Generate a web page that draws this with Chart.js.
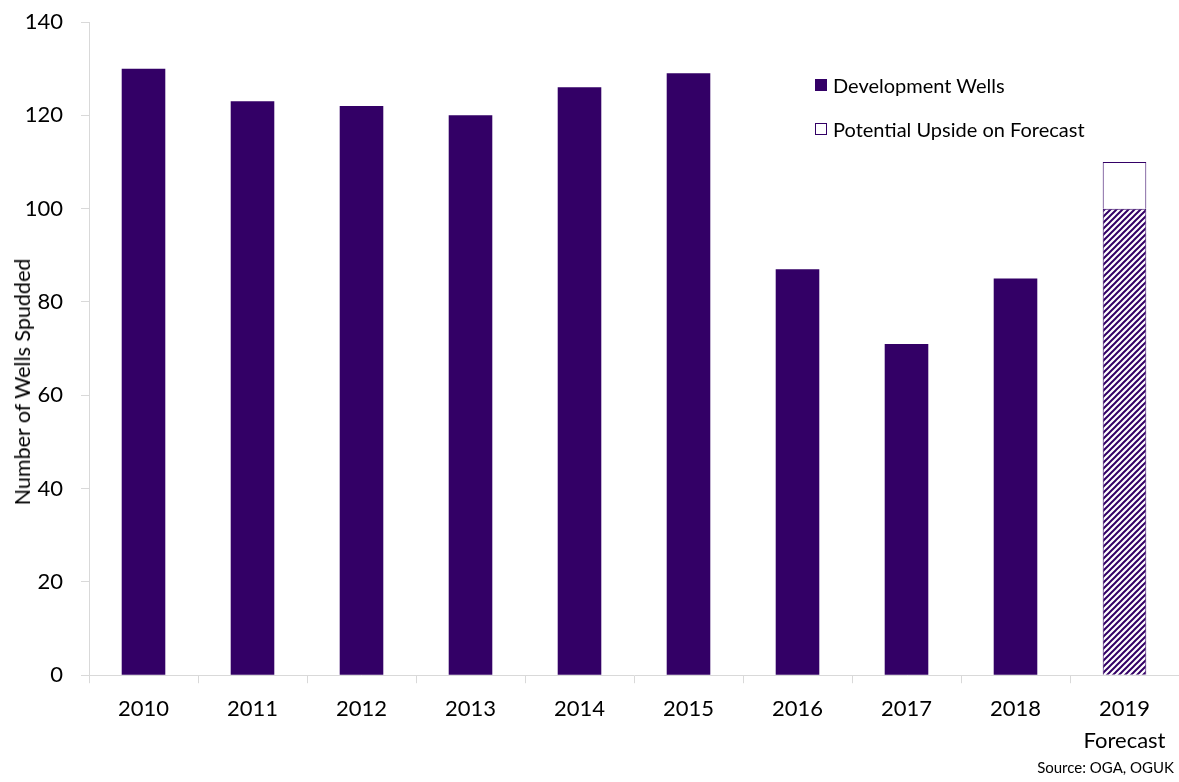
<!DOCTYPE html>
<html>
<head>
<meta charset="utf-8">
<script src="https://cdn.jsdelivr.net/npm/chart.js@4"></script>
<style>
  html, body { margin: 0; padding: 0; background: #fff; }
  #wrap { position: relative; width: 1179px; height: 782px; font-family: Lato, 'Open Sans', sans-serif; }
  #legend { position: absolute; left: 815px; top: 71px; }
  .item { display: flex; align-items: center; height: 28px; margin-bottom: 16px; font-size: 20px; color: #000; }
  .box { width: 12px; height: 12px; margin-right: 6px; box-sizing: border-box; border: 1px solid #330066; }
  #source { position: absolute; right: 5px; top: 758px; font-size: 15px; color: #000; }
  #ytitle { position: absolute; left: 22px; top: 382px; transform: translate(-50%, -50%) rotate(-90deg); white-space: nowrap; font-size: 21.5px; color: #000; }
</style>
</head>
<body>
<div id="wrap">
  <canvas id="chart" width="1179" height="782"></canvas>
  <div id="legend"></div>
  <div id="ytitle">Number of Wells Spudded</div>
  <div id="source">Source: OGA, OGUK</div>
</div>
<script>
const years = ['2010', '2011', '2012', '2013', '2014', '2015', '2016', '2017', '2018', ['2019', 'Forecast']];
const developmentWells = [130, 123, 122, 120, 126, 129, 87, 71, 85, 100];
const upside = [null, null, null, null, null, null, null, null, null, 10];

const purple = '#330066';

// штриховка для прогнозного столбца
function makeHatch() {
  const c = document.createElement('canvas');
  c.width = 6;
  c.height = 6;
  const g = c.getContext('2d');
  g.fillStyle = '#fff';
  g.fillRect(0, 0, 6, 6);
  g.strokeStyle = purple;
  g.lineWidth = 2;
  g.beginPath();
  g.moveTo(-1, 7); g.lineTo(7, -1);
  g.moveTo(-1, 1); g.lineTo(1, -1);
  g.moveTo(5, 7); g.lineTo(7, 5);
  g.stroke();
  return g.createPattern(c, 'repeat');
}

const ctx = document.getElementById('chart').getContext('2d');
const hatch = makeHatch();
const devColors = developmentWells.map((v, i) => (i === developmentWells.length - 1 ? hatch : purple));

// легенда
const legendItems = [
  { name: 'Development Wells', fill: purple },
  { name: 'Potential Upside on Forecast', fill: '#fff' },
];
const legend = document.getElementById('legend');
legendItems.forEach(({ name, fill }) => {
  const row = document.createElement('div');
  row.className = 'item';
  const box = document.createElement('span');
  box.className = 'box';
  box.style.backgroundColor = fill;
  const txt = document.createElement('span');
  txt.textContent = name;
  row.appendChild(box);
  row.appendChild(txt);
  legend.appendChild(row);
});

const font = { family: "Lato, 'Open Sans', sans-serif", size: 22, lineHeight: 1.45 };

new Chart(ctx, {
  type: 'bar',
  data: {
    labels: years,
    datasets: [
      {
        label: 'Development Wells',
        data: developmentWells,
        backgroundColor: devColors,
        borderColor: purple,
        borderWidth: developmentWells.map((v, i) => (i === developmentWells.length - 1 ? 1 : 0)),
        barPercentage: 0.4,
        categoryPercentage: 1,
      },
      {
        label: 'Potential Upside on Forecast',
        data: upside,
        backgroundColor: '#fff',
        borderColor: purple,
        borderWidth: 1,
        barPercentage: 0.4,
        categoryPercentage: 1,
      },
    ],
  },
  options: {
    responsive: false,
    animation: false,
    layout: { padding: { top: 22, right: 0, bottom: 15, left: 26 } },
    plugins: {
      legend: { display: false },
      tooltip: { enabled: false },
    },
    scales: {
      x: {
        stacked: true,
        grid: { offset: true, drawOnChartArea: false, color: '#d9d9d9', tickLength: 8 },
        border: { color: '#d9d9d9' },
        ticks: { color: '#000', font: font, padding: 10, maxRotation: 0 },
      },
      y: {
        stacked: true,
        min: 0,
        max: 140,
        afterFit: (scale) => {
          scale.width = 63;
          scale.paddingTop = 0;
          scale.paddingBottom = 0;
        },
        ticks: { stepSize: 20, color: '#000', font: { family: font.family, size: 22 }, padding: 18 },
        grid: { drawOnChartArea: false, color: '#d9d9d9', tickLength: 8 },
        border: { color: '#d9d9d9' },
      },
    },
  },
});
</script>
</body>
</html>
